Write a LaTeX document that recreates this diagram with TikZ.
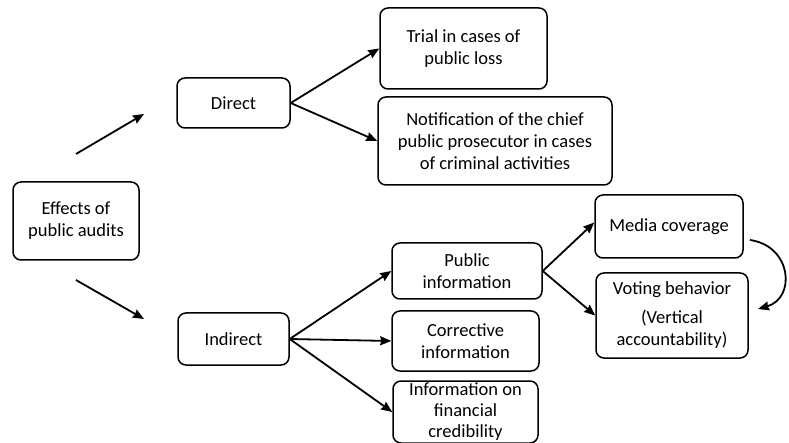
\documentclass[tikz,border=0pt]{standalone}
\usepackage{fontspec}
\setmainfont{Carlito}
\usetikzlibrary{arrows.meta}
\begin{document}
\begin{tikzpicture}[x=1pt,y=-1pt,
  box/.style={draw, line width=1.5pt, rounded corners=8pt, align=center, inner sep=1pt,
    font=\fontsize{18.5}{22}\selectfont},
  arr/.style={line width=1.8pt, -{Stealth[length=11pt,width=9pt,inset=1pt]}}]
\useasboundingbox (0,0) rectangle (789,443);
\node[box, minimum width=126pt, minimum height=78pt] (eff) at (76,221) {Effects of\\public audits};
\node[box, minimum width=113pt, minimum height=50pt] (dir) at (233.5,103) {Direct};
\node[box, minimum width=111pt, minimum height=52pt] (ind) at (233.5,339) {Indirect};
\node[box, minimum width=167pt, minimum height=81pt] (tri) at (463.5,48.5) {Trial in cases of\\public loss};
\node[box, minimum width=234pt, minimum height=88pt] (not) at (495,141) {Notification of the chief\\public prosecutor in cases\\of criminal activities};
\node[box, minimum width=150pt, minimum height=56pt] (pub) at (467,271) {Public\\information};
\node[box, minimum width=147pt, minimum height=60pt] (cor) at (465.5,341) {Corrective\\information};
\node[box, minimum width=145pt, minimum height=62pt, font=\fontsize{18.5}{21}\selectfont] (fin) at (465.5,412) {Information on\\financial\\credibility};
\node[box, minimum width=148pt, minimum height=63pt] (med) at (669,226.5) {Media coverage};
\node[box, minimum width=152pt, minimum height=85pt] (vot) at (672,315.5) {Voting behavior\\[7pt](Vertical\\accountability)};
\coordinate (e1) at (76,154);
\coordinate (e2) at (144,114);
\coordinate (e3) at (76,280);
\coordinate (e4) at (144,319);
\coordinate (c1) at (750,240);
\coordinate (c2) at (758,309);
\draw[arr] (e1) -- (e2);
\draw[arr] (e3) -- (e4);
\draw[arr] (dir.east) -- (tri.west);
\draw[arr] (dir.east) -- (not.west);
\draw[arr] (ind.east) -- (pub.west);
\draw[arr] (ind.east) -- (cor.west);
\draw[arr] (ind.east) -- (fin.west);
\draw[arr] (pub.east) -- ([yshift=4pt]med.west);
\draw[arr] (pub.east) -- (vot.west);
\draw[arr] (c1) .. controls (792,246) and (796,298) .. (c2);
\end{tikzpicture}
\end{document}
